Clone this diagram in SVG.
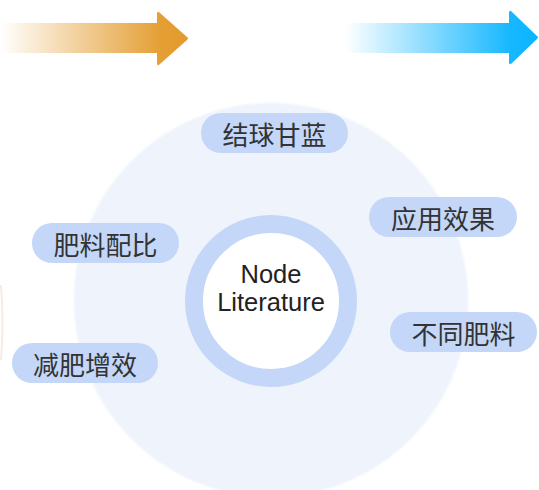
<svg xmlns="http://www.w3.org/2000/svg" width="539" height="490" viewBox="0 0 539 490">
<defs>
<linearGradient id="gOrange" x1="0" y1="0" x2="189" y2="0" gradientUnits="userSpaceOnUse">
<stop offset="0" stop-color="#E39A2A" stop-opacity="0"/>
<stop offset="0.85" stop-color="#E39A2A" stop-opacity="0.95"/>
<stop offset="1" stop-color="#E39A2A"/>
</linearGradient>
<linearGradient id="gBlue" x1="345" y1="0" x2="539" y2="0" gradientUnits="userSpaceOnUse">
<stop offset="0" stop-color="#0BB4FF" stop-opacity="0"/>
<stop offset="0.85" stop-color="#0BB4FF" stop-opacity="0.95"/>
<stop offset="1" stop-color="#0BB4FF"/>
</linearGradient>
<filter id="soft" x="-5%" y="-5%" width="110%" height="110%"><feGaussianBlur stdDeviation="1"/></filter>
</defs>
<style>
.pill{fill:#C4D7F8}
.lbl{font-family:"Noto Sans CJK SC","Noto Sans",sans-serif;font-size:26px;fill:#333;text-anchor:middle;dominant-baseline:central}
.ctr{font-family:"Liberation Sans",Arial,sans-serif;font-size:25.5px;fill:#222;text-anchor:middle}
</style>
<g id="arrows">
<path d="M0,23 H157 V14 Q157,10 160,13 L187,37 Q189,38 187,40 L160,64 Q157,67 157,63 V53 H0 Z" fill="url(#gOrange)"/>
<path d="M345,23 H509 V13 Q509,9 512,12 L537,36 Q539,37 537,39 L512,63 Q509,66 509,62 V53 H345 Z" fill="url(#gBlue)"/>
</g>
<path d="M1,285 Q4,322 1,360" fill="none" stroke="#F3EDE3" stroke-width="2"/>
<circle cx="271" cy="300" r="197" fill="#EEF3FC" filter="url(#soft)"/>
<g id="center">
<circle cx="271" cy="301" r="77" fill="#fff" stroke="#C4D7F8" stroke-width="18"/>
<text class="ctr" x="271" y="283">Node</text>
<text class="ctr" x="271" y="311">Literature</text>
</g>
<g id="n1"><rect class="pill" x="201" y="113" width="147" height="40" rx="20"/><text class="lbl" x="274.5" y="133">结球甘蓝</text></g>
<g id="n2"><rect class="pill" x="32" y="223" width="147" height="40" rx="20"/><text class="lbl" x="105.5" y="243">肥料配比</text></g>
<g id="n3"><rect class="pill" x="12" y="343" width="146" height="40" rx="20"/><text class="lbl" x="85" y="363">减肥增效</text></g>
<g id="n4"><rect class="pill" x="369" y="197" width="148" height="40" rx="20"/><text class="lbl" x="443" y="217">应用效果</text></g>
<g id="n5"><rect class="pill" x="390" y="312" width="147" height="40" rx="20"/><text class="lbl" x="463.5" y="332">不同肥料</text></g>
</svg>
